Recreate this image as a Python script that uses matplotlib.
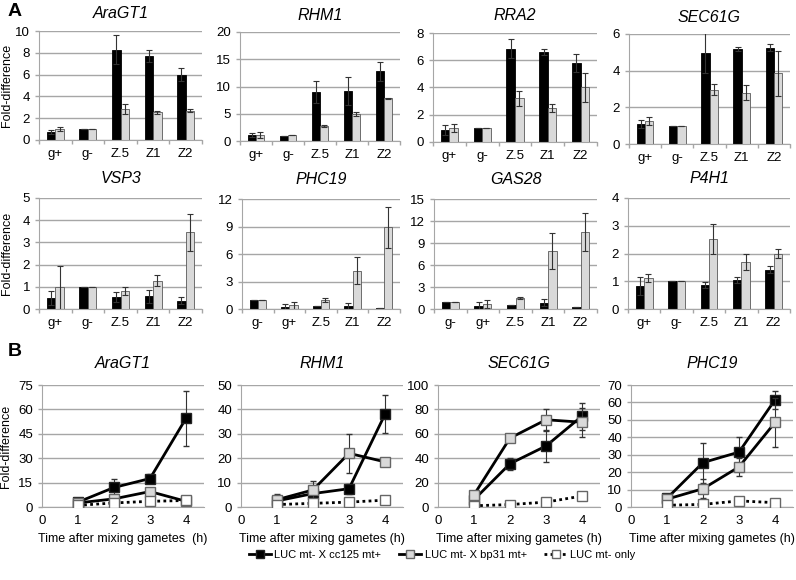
import numpy as np
import matplotlib.pyplot as plt

plt.rcParams['font.family'] = ['Liberation Sans', 'DejaVu Sans']

W, H = 796, 580

# ---------------- Datos panel A (barras) ----------------
cat_std = ['g+', 'g-', 'Z.5', 'Z1', 'Z2']
cat_alt = ['g-', 'g+', 'Z.5', 'Z1', 'Z2']

genes_a = ['AraGT1', 'RHM1', 'RRA2', 'SEC61G', 'VSP3', 'PHC19', 'GAS28', 'P4H1']
cats_a = [cat_std, cat_std, cat_std, cat_std, cat_std, cat_alt, cat_alt, cat_std]

negro_a = [
    [0.75, 1.0, 8.3, 7.75, 6.0],
    [1.1, 1.0, 9.0, 9.2, 12.8],
    [0.9, 1.0, 6.85, 6.6, 5.8],
    [1.1, 1.0, 4.95, 5.2, 5.25],
    [0.5, 1.0, 0.53, 0.57, 0.38],
    [1.0, 0.2, 0.3, 0.35, 0.1],
    [0.9, 0.45, 0.6, 0.85, 0.3],
    [0.83, 1.0, 0.86, 1.05, 1.42],
]
negro_a_err = [
    [0.2, 0, 1.3, 0.55, 0.6],
    [0.3, 0, 2.1, 2.6, 1.7],
    [0.35, 0, 0.7, 0.2, 0.65],
    [0.2, 0, 1.1, 0.1, 0.2],
    [0.32, 0, 0.22, 0.3, 0.14],
    [0, 0.3, 0, 0.35, 0],
    [0, 0.45, 0, 0.45, 0],
    [0.33, 0, 0.12, 0.1, 0.13],
]
gris_a = [
    [1.0, 1.0, 2.85, 2.55, 2.7],
    [1.1, 1.05, 2.8, 5.0, 7.8],
    [1.05, 1.0, 3.2, 2.5, 4.0],
    [1.25, 1.0, 2.95, 2.8, 3.85],
    [0.97, 1.0, 0.8, 1.28, 3.45],
    [1.0, 0.4, 1.0, 4.2, 8.9],
    [0.9, 0.65, 1.5, 7.85, 10.45],
    [1.12, 1.0, 2.53, 1.7, 2.0],
]
gris_a_err = [
    [0.2, 0, 0.45, 0.15, 0.1],
    [0.5, 0, 0.2, 0.4, 0.05],
    [0.3, 0, 0.55, 0.3, 1.05],
    [0.2, 0, 0.3, 0.4, 1.25],
    [0.98, 0, 0.17, 0.25, 0.83],
    [0, 0.4, 0.2, 1.45, 2.25],
    [0, 0.55, 0.15, 2.45, 2.6],
    [0.13, 0, 0.55, 0.3, 0.17],
]
ymax_a = [10, 20, 8, 6, 5, 12, 15, 4]
ystep_a = [2, 5, 2, 2, 1, 3, 3, 1]

# ---------------- Datos panel B (líneas) ----------------
horas = [1, 2, 3, 4]
genes_b = ['AraGT1', 'RHM1', 'SEC61G', 'PHC19']
cc125 = [
    [3, 12, 17.5, 54.5],
    [2.5, 5.5, 7.5, 38],
    [6, 35.5, 50, 74.5],
    [5, 25.5, 31.5, 61.5],
]
cc125_err = [
    [1, 5, 3, 17],
    [1, 1.5, 2, 7.8],
    [1, 5, 13, 11],
    [1, 11.5, 8.5, 5],
]
bp31 = [
    [2.5, 5, 9.5, 3.5],
    [3, 7, 22, 18.5],
    [10, 56.5, 71.5, 69.5],
    [4.5, 10.5, 23, 48.5],
]
bp31_err = [
    [1, 1, 2, 1],
    [2.5, 3.5, 8, 1],
    [1, 1, 9, 12],
    [1, 5.5, 5, 14],
]
solo = [
    [1, 2.5, 3.5, 4],
    [1, 1.5, 2, 2.8],
    [1, 2, 4, 9],
    [1, 1.5, 3.5, 2.5],
]
ymax_b = [75, 50, 100, 70]
ystep_b = [15, 10, 20, 10]

GRIS = '#d9d9d9'
REJILLA = '#a6a6a6'


def ejes_px(fig, left, top, right, bottom):
    return fig.add_axes([left / W, 1 - bottom / H, (right - left) / W, (bottom - top) / H])


def estilo(ax):
    for s in ['top', 'right']:
        ax.spines[s].set_visible(False)
    ax.spines['left'].set_color(REJILLA)
    ax.spines['bottom'].set_color(REJILLA)
    ax.grid(axis='y', color=REJILLA, linewidth=1)
    ax.set_axisbelow(True)
    ax.tick_params(axis='both', colors=REJILLA, labelcolor='black', labelsize=9.5,
                   length=3, width=1)


fig = plt.figure(figsize=(W / 100, H / 100), dpi=100)

pos_a = [
    (39, 31, 202, 140), (240, 32, 400, 141), (433, 33, 597, 142), (629, 34, 790, 144),
    (39, 198, 202, 309), (242, 199, 400, 309), (434, 199, 597, 309), (628, 198, 790, 309),
]
bw = 0.26
for k in range(8):
    ax = ejes_px(fig, *pos_a[k])
    estilo(ax)
    x = np.arange(5)
    ax.bar(x - bw / 2, negro_a[k], bw, color='black', edgecolor='black', linewidth=0.6,
           yerr=negro_a_err[k], error_kw=dict(ecolor='#333333', elinewidth=0.8, capsize=2.5, capthick=0.8))
    ax.bar(x + bw / 2, gris_a[k], bw, color=GRIS, edgecolor='#595959', linewidth=0.6,
           yerr=gris_a_err[k], error_kw=dict(ecolor='#333333', elinewidth=0.8, capsize=2.5, capthick=0.8))
    ax.set_xlim(-0.5, 4.5)
    ax.set_ylim(0, ymax_a[k])
    ax.set_yticks(np.arange(0, ymax_a[k] + 0.01, ystep_a[k]))
    ax.set_xticks(np.arange(-0.5, 5, 1))
    ax.set_xticklabels([])
    ax.set_xticks(x, minor=True)
    ax.set_xticklabels(cats_a[k], minor=True)
    ax.tick_params(axis='x', which='minor', length=0, labelsize=9.5, pad=6)
    ax.set_title(genes_a[k], fontstyle='italic', fontsize=11.5, pad=9 if k < 4 else 11)
    if k in (0, 4):
        ax.set_ylabel('Fold-difference', fontsize=9)
        ax.yaxis.set_label_coords(-26 / 163, 0.5)

pos_b = [42, 241, 438, 631]
for k in range(4):
    ax = ejes_px(fig, pos_b[k], 385, pos_b[k] + 162, 507)
    estilo(ax)
    h1 = ax.errorbar(horas, cc125[k], yerr=cc125_err[k], color='black', linewidth=2, marker='s',
                     markersize=7.5, markerfacecolor='black', markeredgecolor='#222222',
                     ecolor='#333333', elinewidth=0.8, capsize=2.5, zorder=4)
    h2 = ax.errorbar(horas, bp31[k], yerr=bp31_err[k], color='black', linewidth=2, marker='s',
                     markersize=7.5, markerfacecolor=GRIS, markeredgecolor='#666666',
                     ecolor='#333333', elinewidth=0.8, capsize=2.5, zorder=5)
    h3, = ax.plot(horas, solo[k], color='black', linewidth=2, linestyle=(0, (1, 1.2)), marker='s',
                  markersize=7.5, markerfacecolor='white', markeredgecolor='#666666', zorder=6)
    ax.set_xlim(0, 4.5)
    ax.set_ylim(0, ymax_b[k])
    ax.set_xticks([0, 1, 2, 3, 4])
    ax.set_yticks(np.arange(0, ymax_b[k] + 0.01, ystep_b[k]))
    ax.tick_params(axis='x', length=0, pad=6)
    ax.set_title(genes_b[k], fontstyle='italic', fontsize=11.5, pad=12)
    ax.set_xlabel('Time after mixing gametes  (h)' if k == 0 else 'Time after mixing gametes (h)',
                  fontsize=9, labelpad=4)
    if k == 0:
        ax.set_ylabel('Fold-difference', fontsize=9)
        ax.yaxis.set_label_coords(-30 / 162, 0.5)
        handles = [h1[0], h2[0], h3]

labels = ['LUC mt- X cc125 mt+', 'LUC mt- X bp31 mt+', 'LUC mt- only']
fig.legend(handles, labels, loc='center', bbox_to_anchor=(442 / W, 1 - 555 / H), ncol=3,
           frameon=False, fontsize=8, handlelength=2.0, columnspacing=1.6, handletextpad=0.3,
           markerscale=0.75)

fig.text(8 / W, 1 - 12 / H, 'A', fontsize=14, fontweight='bold', va='center')
fig.text(8 / W, 1 - 352 / H, 'B', fontsize=14, fontweight='bold', va='center')

fig.savefig('out.png', dpi=100)
